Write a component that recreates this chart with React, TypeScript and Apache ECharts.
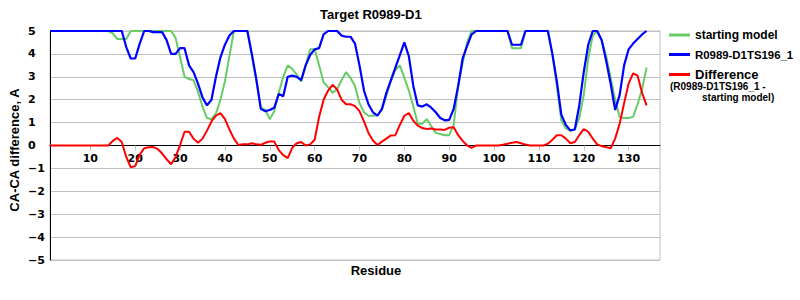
import React, { useEffect, useRef } from "react";
import * as echarts from "echarts";

const residues: string[] = Array.from({ length: 137 }, (_, i) => String(i + 1));
const xTickValues = [10, 20, 30, 40, 50, 60, 70, 80, 90, 100, 110, 120, 130];
const yMin = -5;
const yMax = 5;

const startingModel = [
  5, 5, 5, 5, 5, 5, 5, 5, 5, 5, 5, 5, 5, 5,
  4.9, 4.65, 4.65, 4.65, 5,
  5, 5, 5, 5, 5, 5, 5, 5, 5,
  4.7, 3.85, 3.0, 2.9, 2.85, 2.35, 1.7, 1.2, 1.15, 1.4, 2.0, 2.8, 3.9,
  5, 5, 5, 5,
  3.9, 2.8, 1.65, 1.55, 1.15, 1.5, 2.3, 3.0, 3.5, 3.35, 3.1, 2.8, 3.5, 4.2, 4.2,
  3.5, 2.75, 2.55, 2.3, 2.45, 2.85, 3.2, 2.95, 2.6, 1.85, 1.45, 1.3, 1.3, 1.33, 1.55,
  2.2, 2.8, 3.3, 3.5, 2.95, 2.4, 1.7, 0.95, 0.95, 1.15, 0.85, 0.55, 0.5, 0.45, 0.45,
  0.9, 2.6, 3.6, 4.5, 5,
  5, 5, 5, 5, 5, 5, 5, 5,
  4.25, 4.25, 4.25,
  5, 5, 5, 5, 5, 5,
  4.0, 2.6, 1.1, 0.75, 0.65, 0.7, 1.2, 2.2, 3.8, 4.8, 5, 4.6, 3.9, 2.95, 2.0, 1.25,
  1.2, 1.2, 1.25, 1.8, 2.45, 3.4,
];

const modelTS196 = [
  5, 5, 5, 5, 5, 5, 5, 5, 5, 5, 5, 5, 5, 5, 5, 5, 5,
  4.3, 3.8, 3.8, 4.45, 5,
  5, 4.95, 4.95, 4.95, 4.6,
  4.0, 4.0, 4.25, 4.25, 3.5, 3.2, 2.7, 2.1, 1.75, 2.0, 3.0, 3.85, 4.4, 4.8,
  5, 5, 5, 5,
  4.0, 2.9, 1.6, 1.5, 1.55, 1.65, 2.25, 2.15, 3.0, 3.05, 3.0, 2.85, 3.5, 3.95, 4.2,
  4.25, 4.85, 5, 5, 5, 4.8, 4.75, 4.75, 4.45, 3.5, 2.4, 1.8, 1.45, 1.3, 1.6,
  2.3, 2.85, 3.4, 3.95, 4.5, 3.9, 2.6, 1.75, 1.7, 1.8, 1.65, 1.45, 1.2, 1.1, 1.12,
  1.6, 2.6, 3.8, 4.35, 4.85,
  5, 5, 5, 5, 5, 5, 5, 5,
  4.4, 4.4, 4.4,
  5, 5, 5, 5, 5, 5,
  4.0, 2.8, 1.35, 0.9, 0.66, 0.7, 1.75, 3.2, 4.4, 5, 5, 4.6, 3.7, 2.7, 1.55, 2.2,
  3.5, 4.2, 4.45, 4.65, 4.85, 5,
];

const difference = [
  0, 0, 0, 0, 0, 0, 0, 0, 0, 0, 0, 0, 0, 0,
  0.2, 0.33, 0.15, -0.5, -0.95, -0.9, -0.4, -0.12, -0.08, -0.07, -0.15, -0.35, -0.6, -0.82, -0.5,
  0.02, 0.6, 0.6, 0.3, 0.12, 0.3, 0.65, 1.05, 1.3, 1.42, 1.15, 0.7, 0.3, 0.02, 0.05, 0.05,
  0.1, 0.05, 0.03, 0.12, 0.18, 0.17, -0.2, -0.42, -0.55, -0.1, 0.1, 0.15, 0.0, 0.05, 0.25,
  1.25, 2.0, 2.4, 2.65, 2.45, 2.0, 1.8, 1.8, 1.72, 1.5, 1.05, 0.55, 0.22, 0.02, 0.17,
  0.3, 0.44, 0.45, 0.9, 1.3, 1.42, 1.08, 0.87, 0.76, 0.72, 0.74, 0.7, 0.7, 0.68, 0.78,
  0.8, 0.45, 0.2, 0.0, -0.1,
  0, 0, 0, 0, 0, 0,
  0.03, 0.08, 0.12, 0.15, 0.1, 0.04,
  0, 0, 0, 0,
  0.08, 0.25, 0.45, 0.45, 0.3, 0.1, 0.15, 0.45, 0.72, 0.6, 0.3, 0.05, -0.03, -0.07, -0.12,
  0.3, 0.95, 1.85, 2.7, 3.15, 3.05, 2.3, 1.75,
];

const seriesNames = ["starting model", "R0989-D1TS196_1", "Difference"];
const seriesColors = ["#66cc66", "#0000ff", "#ff0000"];
const legendSubText = ["(R0989-D1TS196_1 -", "starting model)"];

const ARIAL = "'Liberation Sans', Arial, sans-serif";
const VERDANA = "'DejaVu Sans', Verdana, sans-serif";

const GRID_TOP = 31;
const GRID_BOTTOM = 40;
const CHART_H = 300;

export default function App() {
  const ref = useRef<HTMLDivElement>(null);

  useEffect(() => {
    document.body.style.margin = "0";
    if (!ref.current) return;
    const chart = echarts.init(ref.current, null, { renderer: "svg" });
    const tickSet = new Set(xTickValues.map(String));

    // place the x axis (line, ticks, labels) at value 0
    const plotH = CHART_H - GRID_TOP - GRID_BOTTOM;
    const zeroOffset = -plotH * ((0 - yMin) / (yMax - yMin));

    const option: any = {
      animation: false,
      backgroundColor: "#ffffff",
      title: {
        text: "Target R0989-D1",
        left: 320,
        top: 8,
        padding: 0,
        textStyle: { fontFamily: ARIAL, fontWeight: "bold", fontSize: 13, color: "#000" },
      },
      legend: {
        orient: "vertical",
        left: 669,
        top: 29,
        padding: 0,
        icon: "rect",
        itemWidth: 21,
        itemHeight: 3,
        itemGap: 8,
        data: seriesNames,
        formatter: (name: string) =>
          name === "Difference" ? "{big|" + name + "}" : name === "starting model" ? "{n|" + name + "}" : "{m|" + name + "}",
        textStyle: {
          color: "#000",
          rich: {
            n: { fontFamily: ARIAL, fontWeight: "bold", fontSize: 12, color: "#000", height: 14 },
            m: { fontFamily: ARIAL, fontWeight: "bold", fontSize: 11.4, color: "#000", height: 14 },
            big: { fontFamily: ARIAL, fontWeight: "bold", fontSize: 13, color: "#000", height: 14 },
          },
        },
      },
      grid: {
        left: 50,
        right: 140,
        top: GRID_TOP,
        bottom: GRID_BOTTOM,
        show: true,
        borderColor: "#c0c0c0",
        borderWidth: 1,
      },
      xAxis: {
        type: "category",
        data: residues,
        boundaryGap: false,
        offset: zeroOffset,
        axisLine: { onZero: false, lineStyle: { color: "#000", width: 1 } },
        axisTick: {
          show: true,
          length: 5,
          interval: (_i: number, v: string) => tickSet.has(v),
          lineStyle: { color: "#c0c0c0" },
        },
        axisLabel: {
          interval: (_i: number, v: string) => tickSet.has(v),
          margin: 7,
          fontFamily: VERDANA,
          fontWeight: "bold",
          fontSize: 11,
          color: "#000",
        },
        splitLine: { show: false },
      },
      yAxis: {
        type: "value",
        min: yMin,
        max: yMax,
        interval: 1,
        axisLine: { show: true, lineStyle: { color: "#000", width: 1 } },
        axisTick: { show: false },
        axisLabel: {
          align: "left",
          margin: 22,
          fontFamily: VERDANA,
          fontWeight: "bold",
          fontSize: 11,
          color: "#000",
          formatter: (v: number) => String(v).replace("-", "\u2212"),
        },
        splitLine: { show: true, lineStyle: { color: "#c0c0c0", width: 1 } },
      },
      graphic: [
        {
          type: "text",
          x: 14,
          y: 150,
          rotation: Math.PI / 2,
          style: {
            text: "CA-CA difference, A",
            fontFamily: ARIAL,
            fontWeight: "bold",
            fontSize: 13,
            fill: "#000",
            align: "center",
            verticalAlign: "middle",
          },
        },
        {
          type: "text",
          x: 376,
          y: 270,
          style: {
            text: "Residue",
            fontFamily: ARIAL,
            fontWeight: "bold",
            fontSize: 13,
            fill: "#000",
            align: "center",
            verticalAlign: "middle",
          },
        },
        {
          type: "text",
          x: 670,
          y: 86,
          style: {
            text: legendSubText[0],
            fontFamily: ARIAL,
            fontWeight: "bold",
            fontSize: 10,
            fill: "#000",
            align: "left",
            verticalAlign: "middle",
          },
        },
        {
          type: "text",
          x: 702,
          y: 97,
          style: {
            text: legendSubText[1],
            fontFamily: ARIAL,
            fontWeight: "bold",
            fontSize: 10,
            fill: "#000",
            align: "left",
            verticalAlign: "middle",
          },
        },
      ],
      series: [
        {
          name: seriesNames[0],
          type: "line",
          data: startingModel,
          symbol: "none",
          lineStyle: { color: seriesColors[0], width: 2 },
          itemStyle: { color: seriesColors[0] },
          z: 2,
        },
        {
          name: seriesNames[1],
          type: "line",
          data: modelTS196,
          symbol: "none",
          lineStyle: { color: seriesColors[1], width: 2.2 },
          itemStyle: { color: seriesColors[1] },
          z: 3,
        },
        {
          name: seriesNames[2],
          type: "line",
          data: difference,
          symbol: "none",
          lineStyle: { color: seriesColors[2], width: 2 },
          itemStyle: { color: seriesColors[2] },
          z: 4,
        },
      ],
    };

    chart.setOption(option);
    return () => chart.dispose();
  }, []);

  return <div ref={ref} style={{ width: 800, height: 300 }} />;
}
